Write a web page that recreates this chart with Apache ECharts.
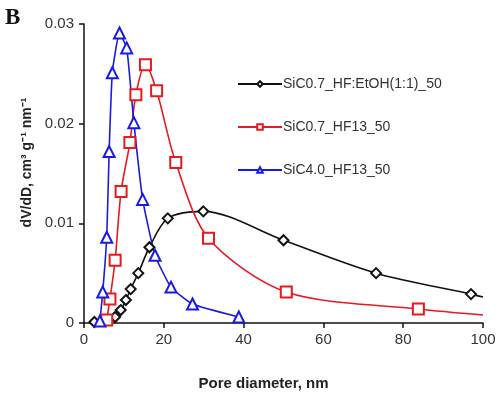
<!DOCTYPE html>
<html>
<head>
<meta charset="utf-8">
<script src="https://cdn.jsdelivr.net/npm/echarts@6/dist/echarts.min.js"></script>
<style>
  html, body { margin: 0; padding: 0; background: #fff; }
  #chart { width: 504px; height: 397px; }
</style>
</head>
<body>
<div id="chart"></div>
<script>
// pore diameter (nm) and dV/dD values
const etohD = [2.6, 7.8, 9.2, 10.5, 11.7, 13.6, 16.4, 21.0, 29.9, 50.0, 73.2, 97.0, 100]
const etohV = [0.0001, 0.0006, 0.0013, 0.0023, 0.0034, 0.0050, 0.0076, 0.0105, 0.0112, 0.0083, 0.0050, 0.0029, 0.0026]

const hf07D = [5.7, 6.5, 7.8, 9.3, 11.5, 13.0, 15.4, 18.2, 23.0, 31.2, 50.7, 83.8, 100]
const hf07V = [0.0003, 0.0024, 0.0063, 0.0132, 0.0181, 0.0229, 0.0259, 0.0233, 0.0161, 0.0085, 0.0031, 0.0014, 0.0008]

const hf40D = [4.0, 4.7, 5.7, 6.3, 7.1, 8.9, 10.7, 12.5, 14.7, 17.8, 21.8, 27.2, 38.8]
const hf40V = [0.0002, 0.0031, 0.0086, 0.0172, 0.0251, 0.0291, 0.0276, 0.0201, 0.0124, 0.0068, 0.0036, 0.0019, 0.0006]

const seriesNames = ['SiC0.7_HF:EtOH(1:1)_50', 'SiC0.7_HF13_50', 'SiC4.0_HF13_50']
const xTicks = [0, 20, 40, 60, 80, 100]
const yTicks = [0, 0.01, 0.02, 0.03]

// the last point of the two long curves is only a line end, no marker
function pairs (xs, ys, lastBare) {
  return xs.map((x, i) => {
    if (lastBare && i === xs.length - 1) return { value: [x, ys[i]], symbol: 'none' }
    return [x, ys[i]]
  })
}

const chart = echarts.init(document.getElementById('chart'))

const labelFont = {
  fontFamily: 'Liberation Sans, Arial, sans-serif',
  fontSize: 15,
  color: '#333'
}

function lineSeries (name, data, color, symbol, size, smooth) {
  return {
    name: name,
    type: 'line',
    data: data,
    smooth: smooth,
    symbol: symbol,
    symbolSize: size,
    showAllSymbol: true,
    lineStyle: { color: color, width: 1.6 },
    itemStyle: { color: color, borderColor: color, borderWidth: 1.5 },
    emphasis: { disabled: true }
  }
}

const option = {
  backgroundColor: '#fff',
  animation: false,
  grid: { left: 84, right: 21, top: 24, bottom: 74 },
  graphic: [
    {
      type: 'text',
      left: 5,
      top: 7,
      style: {
        text: 'B',
        font: 'bold 23px "Liberation Serif", "Times New Roman", serif',
        fill: '#111'
      }
    }
  ],
  legend: {
    orient: 'vertical',
    left: 232,
    top: 72,
    itemWidth: 44,
    itemHeight: 7,
    itemGap: 29,
    selectedMode: false,
    textStyle: {
      fontFamily: 'Liberation Sans, Arial, sans-serif',
      fontSize: 14,
      color: '#333',
      padding: [0, 0, 0, -4]
    },
    data: seriesNames
  },
  xAxis: {
    type: 'value',
    min: xTicks[0],
    max: xTicks[xTicks.length - 1],
    interval: 20,
    name: 'Pore diameter, nm',
    nameLocation: 'middle',
    nameGap: 53,
    nameTextStyle: {
      fontFamily: 'Liberation Sans, Arial, sans-serif',
      fontSize: 15,
      fontWeight: 'bold',
      color: '#222',
      padding: [0, 40, 0, 0]
    },
    axisLine: { lineStyle: { color: '#111', width: 1.5 } },
    axisTick: { show: true, length: 5, lineStyle: { color: '#111', width: 1.5 } },
    axisLabel: Object.assign({ margin: 9 }, labelFont),
    splitLine: { show: false }
  },
  yAxis: {
    type: 'value',
    min: yTicks[0],
    max: yTicks[yTicks.length - 1],
    interval: 0.01,
    name: 'dV/dD, cm³ g⁻¹ nm⁻¹',
    nameLocation: 'middle',
    nameGap: 50,
    nameTextStyle: {
      fontFamily: 'Liberation Sans, Arial, sans-serif',
      fontSize: 14,
      fontWeight: 'bold',
      color: '#222',
      padding: [0, 0, 0, 22]
    },
    axisLine: { show: true, lineStyle: { color: '#111', width: 1.5 } },
    axisTick: { show: true, length: 5, lineStyle: { color: '#111', width: 1.5 } },
    axisLabel: Object.assign({
      margin: 10,
      formatter: v => (v === 0 ? '0' : v.toFixed(2))
    }, labelFont),
    splitLine: { show: false }
  },
  series: [
    lineSeries(seriesNames[0], pairs(etohD, etohV, true), '#111', 'emptyDiamond', 10, 0.3),
    lineSeries(seriesNames[1], pairs(hf07D, hf07V, true), '#e8191f', 'emptyRect', 11, 0.3),
    lineSeries(seriesNames[2], pairs(hf40D, hf40V, false), '#1a1ae6', 'emptyTriangle', 11, 0.15)
  ]
}

chart.setOption(option)
</script>
</body>
</html>
